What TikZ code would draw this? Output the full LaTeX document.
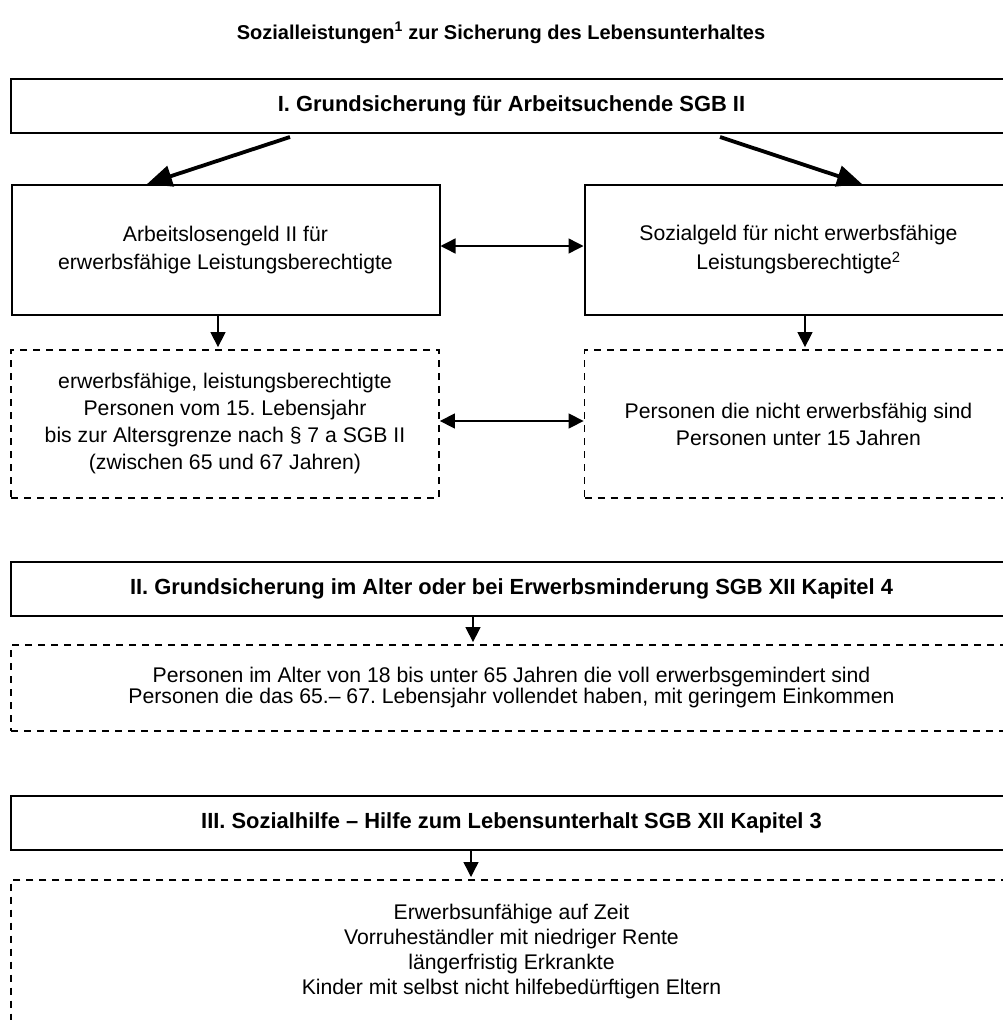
\documentclass[tikz,border=0pt]{standalone}
\usepackage{fontspec}
\setmainfont{Liberation Sans}
\usetikzlibrary{arrows.meta}
\frenchspacing

\begin{document}
\begin{tikzpicture}[x=1pt,y=-1pt,
   kopf/.style={draw,line width=2pt,minimum width=1001pt,minimum height=54pt,
             font=\bfseries\fontsize{21.9}{25}\selectfont},
   sbox/.style={draw,line width=2pt,minimum width=428pt,minimum height=130pt,
             align=center,font=\fontsize{21.2}{28}\selectfont},
   dbox/.style={draw,line width=1.8pt,dash pattern=on 7pt off 6pt,align=center,
             font=\fontsize{21.2}{27}\selectfont},
   big/.style={-{Triangle[length=25pt,width=21pt]},line width=3.8pt},
   small/.style={-{Triangle[length=15pt,width=15pt]},line width=1.4pt},
   both/.style={{Triangle[length=15pt,width=15pt]}-{Triangle[length=15pt,width=15pt]},
             line width=1.4pt}]
  \path[use as bounding box,clip] (0,0) rectangle (1003,1020);
  \node[font=\bfseries\fontsize{20}{24}\selectfont] (titel) at (501,33)
     {Sozialleistungen\textsuperscript{1} zur Sicherung des Lebensunterhaltes};
  % I. SGB II
  \node[kopf] (gsA) at (511.5,106) {I. Grundsicherung für Arbeitsuchende SGB II};
  \node[sbox] (alg2) at (225.5,250) {Arbeitslosengeld II für\\erwerbsfähige Leistungsberechtigte};
  \node[sbox,font=\fontsize{21.2}{29}\selectfont] (sozg) at (798.5,250)
     {Sozialgeld für nicht erwerbsfähige\\Leistungsberechtigte\textsuperscript{2}};
  \node[dbox,minimum width=428pt,minimum height=148pt] (persA) at (225,424)
     {erwerbsfähige, leistungsberechtigte\\Personen vom 15. Lebensjahr\\
      bis zur Altersgrenze nach § 7 a SGB II\\(zwischen 65 und 67 Jahren)};
  \node[dbox,minimum width=428pt,minimum height=148pt] (persB) at (798.5,424)
     {Personen die nicht erwerbsfähig sind\\Personen unter 15 Jahren};
  \draw[big] ([xshift=-221.5pt,yshift=-3pt]gsA.south) -- ([xshift=-78.5pt]alg2.north);
  \draw[big] ([xshift=208.5pt,yshift=-3pt]gsA.south) -- ([xshift=63.5pt]sozg.north);
  \draw[both] ([yshift=4pt]alg2.east) -- ([yshift=4pt]sozg.west);
  \draw[small] ([xshift=-7.5pt]alg2.south) -- ([xshift=-7pt,yshift=2pt]persA.north);
  \draw[small] ([xshift=6.5pt]sozg.south) -- ([xshift=6.5pt,yshift=2pt]persB.north);
  \draw[both] ([yshift=3pt]persA.east) -- ([yshift=3pt]persB.west);
  % II. SGB XII Kap. 4
  \node[kopf] (gsAlter) at (511.5,589)
     {II. Grundsicherung im Alter oder bei Erwerbsminderung SGB XII Kapitel 4};
  \node[dbox,minimum width=1001pt,minimum height=86pt,font=\fontsize{21.2}{21}\selectfont]
     (persAlter) at (511.5,688)
     {Personen im Alter von 18 bis unter 65 Jahren die voll erwerbsgemindert sind\\
      Personen die das 65.– 67. Lebensjahr vollendet haben, mit geringem Einkommen};
  \draw[small] ([xshift=-38.5pt]gsAlter.south) -- ([xshift=-38.5pt,yshift=2pt]persAlter.north);
  % III. SGB XII Kap. 3
  \node[kopf] (shilfe) at (511.5,823)
     {III. Sozialhilfe – Hilfe zum Lebensunterhalt SGB XII Kapitel 3};
  \node[dbox,anchor=north,minimum width=1001pt,inner ysep=24pt,text depth=40pt,
        font=\fontsize{21.2}{25}\selectfont] (persHilfe) at (511.5,879)
     {Erwerbsunfähige auf Zeit\\Vorruheständler mit niedriger Rente\\
      längerfristig Erkrankte\\Kinder mit selbst nicht hilfebedürftigen Eltern};
  \draw[small] ([xshift=-40.5pt]shilfe.south) -- ([xshift=-40.5pt,yshift=2pt]persHilfe.north);
\end{tikzpicture}
\end{document}
